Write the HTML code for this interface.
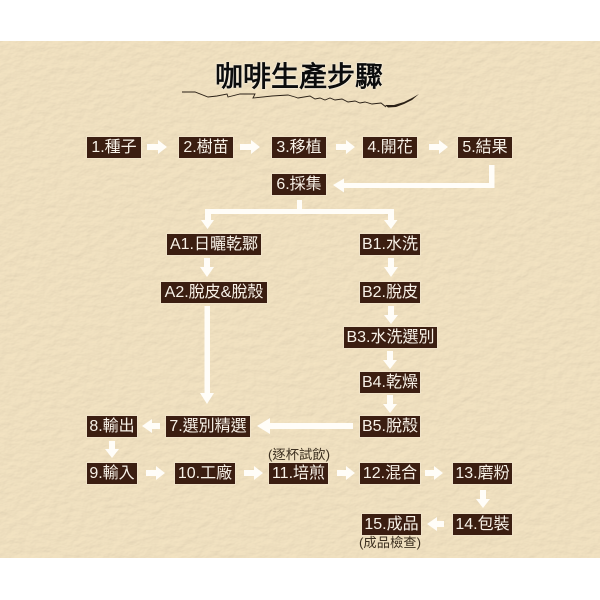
<!DOCTYPE html>
<html lang="zh-Hant">
<head>
<meta charset="utf-8">
<title>咖啡生產步驟</title>
<style>
html,body{margin:0;padding:0;background:#fff}
body{width:600px;height:600px;position:relative;overflow:hidden;font-family:"Liberation Sans","Noto Sans CJK TC",sans-serif}
svg.bg,svg.fg{position:absolute;left:0;top:0}
.b{position:absolute;box-sizing:border-box;height:23px;background:#3b1e11;border:1px solid #f0e3c9;color:#f8f2e8;font-size:16px;line-height:21px;text-align:center;white-space:nowrap}
.n{position:absolute;color:#3d3020;font-size:13.300px;line-height:16px;text-align:center;white-space:nowrap}
.t{position:absolute;left:199px;width:200px;top:56px;text-align:center;font-size:28px;line-height:38px;color:#0c0c0c;font-family:"Noto Sans CJK TC",sans-serif;-webkit-text-stroke:.8px #0c0c0c;text-shadow:0 0 2px #fff,0 0 2px #fff;white-space:nowrap}
</style>
</head>
<body>
<svg class="bg" width="600" height="600">
<defs>
<filter id="p" x="0" y="0" width="100%" height="100%">
<feTurbulence type="fractalNoise" baseFrequency="0.09 0.14" numOctaves="3" seed="7"/>
<feDiffuseLighting surfaceScale="0.6" diffuseConstant="1" lighting-color="#f9e9c8">
<feDistantLight azimuth="235" elevation="68"/>
</feDiffuseLighting>
</filter>
</defs>
<rect x="0" y="41" width="600" height="517" fill="#e5d5b4"/>
<rect x="0" y="41" width="600" height="517" filter="url(#p)" opacity=".8"/>
</svg>
<svg class="fg" width="600" height="600">
<path d="M182 92 L195 92 L208 97 L217 96 L227 94 L228 97 L240 94 L255 94 L253 98 L272 96 L288 95 L295 97 L298 98 L310 96 L315 99 L320 98 L325 100 L330 98 L335 100 L342 99 L348 102 L355 101 L360 103 L365 102 L372 104 L381 103 L386 107" fill="none" stroke="#2a2016" stroke-width=".9"/>
<path d="M385 105 L394 105 L404 102 L412 98 L419 94 L412 100 L404 104 L396 107 L388 107.500 Z" fill="#2a2016"/>
<g fill="#fffdf8">
<!-- row 1 right arrows -->
<path d="M147 144H158V140L167 147L158 154V150H147Z"/>
<path d="M240 144H251V140L260 147L251 154V150H240Z"/>
<path d="M336 144H346V140L355 147L346 154V150H336Z"/>
<path d="M429 144H439V140L448 147L439 154V150H429Z"/>
<!-- 5 to 6 -->
<path d="M489 165H494.500V188H344V192.500L333 185L344 178.500V183H489Z"/>
<!-- 6 branch -->
<path d="M297 200H302V209H394V220H397.500L391 229L384 220H388V214H211V220H214L207.500 229L201 220H205V209H297Z"/>
<!-- vertical arrows -->
<path d="M204 258H210V267H214L207 277L200 267H204Z"/>
<path d="M388 258H394V267H398L391 277L384 267H388Z"/>
<path d="M388 306H394V315H398L391 324L384 315H388Z"/>
<path d="M387 351H393V360H397L390 369L383 360H387Z"/>
<path d="M387 395H393V404H397L390 413L383 404H387Z"/>
<path d="M204.500 306H210V393H214L207 404L200 393H204.500Z"/>
<path d="M109 441H115V449H119L112 458L105 449H109Z"/>
<path d="M480 490H486V499H490L483 508L476 499H480Z"/>
<!-- left arrows -->
<path d="M353 423V429H270V434L257 426L270 418V423Z"/>
<path d="M160 423V429H152V433L142 426L152 419V423Z"/>
<path d="M444 521V527H437V531L427 524L437 517V521Z"/>
<!-- row 3 right arrows -->
<path d="M146 470H156V466L165 473L156 480V476H146Z"/>
<path d="M244 470H254V466L263 473L254 480V476H244Z"/>
<path d="M337 470H346V466L355 473L346 480V476H337Z"/>
<path d="M425 470H434V466L443 473L434 480V476H425Z"/>
</g>
</svg>
<div class="t">咖啡生產步驟</div>

<div class="b" style="left:86px;top:136px;width:56px">1.種子</div>
<div class="b" style="left:178px;top:136px;width:56px">2.樹苗</div>
<div class="b" style="left:271px;top:136px;width:56px">3.移植</div>
<div class="b" style="left:362px;top:136px;width:56px">4.開花</div>
<div class="b" style="left:457px;top:136px;width:56px">5.結果</div>
<div class="b" style="left:271px;top:173px;width:56px">6.採集</div>
<div class="b" style="left:166px;top:233px;width:96px">A1.日曬乾鄹</div>
<div class="b" style="left:359px;top:233px;width:62px">B1.水洗</div>
<div class="b" style="left:160px;top:281px;width:108px">A2.脫皮&amp;脫殼</div>
<div class="b" style="left:359px;top:281px;width:62px">B2.脫皮</div>
<div class="b" style="left:343px;top:326px;width:95px">B3.水洗選別</div>
<div class="b" style="left:359px;top:371px;width:62px">B4.乾燥</div>
<div class="b" style="left:359px;top:415px;width:62px">B5.脫殼</div>
<div class="b" style="left:165px;top:415px;width:86px">7.選別精選</div>
<div class="b" style="left:86px;top:415px;width:52px">8.輸出</div>
<div class="b" style="left:86px;top:462px;width:52px">9.輸入</div>
<div class="b" style="left:174px;top:462px;width:62px">10.工廠</div>
<div class="b" style="left:268px;top:462px;width:61px">11.培煎</div>
<div class="b" style="left:359px;top:462px;width:62px">12.混合</div>
<div class="b" style="left:452px;top:462px;width:61px">13.磨粉</div>
<div class="b" style="left:452px;top:513px;width:61px">14.包裝</div>
<div class="b" style="left:361px;top:513px;width:61px">15.成品</div>
<div class="n" style="left:259px;top:447px;width:80px">(逐杯試飲)</div>
<div class="n" style="left:350px;top:535px;width:80px">(成品檢查)</div>
</body>
</html>
